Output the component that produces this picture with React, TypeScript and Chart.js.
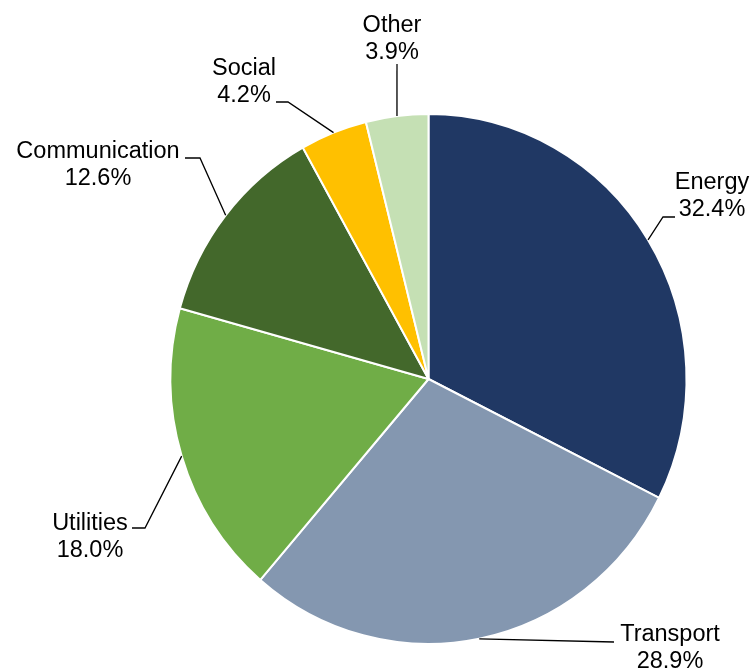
import React, { useEffect, useRef } from "react";
import { Chart, registerables } from "chart.js";

Chart.register(...registerables);

const categories = ["Energy", "Transport", "Utilities", "Communication", "Social", "Other"];
const shares = [32.4, 28.9, 18.0, 12.6, 4.2, 3.9];
const colors = ["#203864", "#8497B0", "#70AD47", "#43682B", "#FFC000", "#C5E0B4"];

// label layout: text centre x, first-line baseline y, leader path after the slice edge point
const labelLayout: { x: number; y: number; path: number[][] }[] = [
  { x: 712, y: 189, path: [[663, 217], [675, 217]] },
  { x: 670, y: 641, path: [[614, 642]] },
  { x: 90, y: 530, path: [[145, 528], [132, 528]] },
  { x: 98, y: 158, path: [[200, 158], [185, 158]] },
  { x: 244, y: 75, path: [[288, 102], [276, 102]] },
  { x: 392, y: 32, path: [[397, 64]] },
];

const SCALE_Y = 1.027;
const FONT = "23.5px 'Liberation Sans', Arial, sans-serif";
const LINE_GAP = 27;

const pieExtras = {
  id: "pieExtras",
  beforeDatasetsDraw(chart: any) {
    const arc = chart.getDatasetMeta(0).data[0];
    const ctx = chart.ctx;
    ctx.save();
    ctx.translate(arc.x, arc.y);
    ctx.scale(1, SCALE_Y);
    ctx.translate(-arc.x, -arc.y);
  },
  afterDatasetsDraw(chart: any) {
    chart.ctx.restore();
  },
  afterDraw(chart: any) {
    const ctx = chart.ctx;
    const arcs = chart.getDatasetMeta(0).data;
    ctx.save();
    ctx.strokeStyle = "#000";
    ctx.lineWidth = 1.3;
    arcs.forEach((a: any, i: number) => {
      const p = a.getProps(["x", "y", "startAngle", "endAngle", "outerRadius"], true);
      const mid = (p.startAngle + p.endAngle) / 2;
      const ex = p.x + p.outerRadius * Math.cos(mid);
      const ey = p.y + p.outerRadius * Math.sin(mid) * SCALE_Y;
      const lay = labelLayout[i];
      ctx.beginPath();
      ctx.moveTo(ex, ey);
      lay.path.forEach((pt) => ctx.lineTo(pt[0], pt[1]));
      ctx.stroke();
      ctx.fillStyle = "#000";
      ctx.font = FONT;
      ctx.textAlign = "center";
      ctx.textBaseline = "alphabetic";
      ctx.fillText(categories[i], lay.x, lay.y);
      ctx.fillText(shares[i].toFixed(1) + "%", lay.x, lay.y + LINE_GAP);
    });
    ctx.restore();
  },
};

export default function App() {
  const ref = useRef<HTMLCanvasElement | null>(null);
  useEffect(() => {
    document.body.style.margin = "0";
    const canvas = ref.current;
    if (!canvas) return;
    const chart = new Chart(canvas, {
      type: "pie",
      data: {
        labels: categories,
        datasets: [
          {
            data: shares,
            backgroundColor: colors,
            borderColor: "#ffffff",
            borderWidth: 2,
          },
        ],
      },
      options: {
        responsive: false,
        animation: false,
        radius: 258,
        layout: { padding: { left: 101, right: 0, top: 87, bottom: 0 } },
        plugins: {
          legend: { display: false },
          tooltip: { enabled: false },
        },
      } as any,
      plugins: [pieExtras],
    });
    return () => chart.destroy();
  }, []);
  return (
    <div style={{ width: 756, height: 671, background: "#fff" }}>
      <canvas ref={ref} width={756} height={671} style={{ display: "block" }} />
    </div>
  );
}
